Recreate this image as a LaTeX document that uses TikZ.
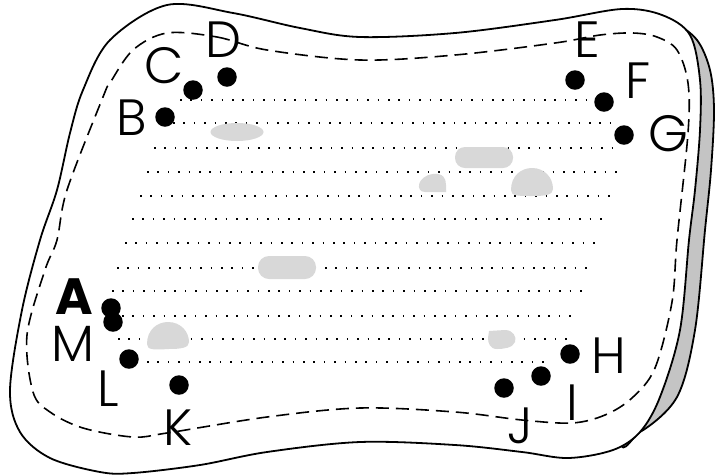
\documentclass[tikz,border=0pt]{standalone}
\usepackage{fontspec}
\setmainfont{Poppins}
\newfontfamily\lightlab{Poppins Light}
\begin{document}
\begin{tikzpicture}[x=1pt,y=-1pt,
  pin/.style={circle,fill=black,inner sep=0pt,minimum size=19.5pt},
  lab/.style={inner sep=0pt,font=\fontsize{51}{51}\lightlab},
  dotrow/.style={line width=1.6pt,dash pattern=on 1.6pt off 8.8pt},
  blob/.style={fill=blobgray},
  outline/.style={line width=1.8pt,line join=round}]
\definecolor{blobgray}{HTML}{D8D8D8}
\definecolor{shadegray}{HTML}{C4C4C4}
\useasboundingbox (0,0) rectangle (715,475);
% shadow
\draw[outline,fill=shadegray] plot[smooth cycle,tension=0.55] coordinates {
 (675,25) (697,40) (710,70) (714,110) (711,170) (705,230) (695,330) (677,397) (640,432) (620,430) (650,200) (660,40)};
% paper
\draw[outline,fill=white] plot[smooth cycle,tension=0.55] coordinates {
 (167,5) (233,13) (300,28) (360,37) (455,33) (555,20) (622,9) (662,15) (690,35) (700,80) (700,130) (695,190) (689,240) (680,330) (660,397) (640,432) (613,450) (568,458) (522,452) (455,445) (360,442) (267,452) (200,465) (133,473) (100,472) (50,458) (20,432) (10,390) (22,310) (40,240) (57,190) (70,133) (83,90) (110,40)};
% dashed border
\draw[line width=1.6pt,dash pattern=on 13pt off 7pt] plot[smooth cycle,tension=0.55] coordinates {
 (167,33) (217,37) (267,50) (360,60) (455,55) (555,43) (600,35) (633,33) (657,37) (677,50) (688,83) (688,133) (677,240) (672,302) (655,368) (632,398) (605,415) (572,423) (522,420) (455,412) (360,408) (267,417) (167,433) (133,437) (83,428) (50,412) (33,392) (27,335) (45,270) (57,240) (67,190) (103,97) (110,83) (133,50)};
% dotted rows
\foreach \y/\a/\b in {100/180/588,123/173/615,148/154/618,172/147/622,196/140/613,219/132/605,243/125/598,268/117/592,291/112/585,316/122/575,339/118/570,362/147/550}{
  \draw[dotrow] (\a,\y) -- (\b,\y);
}
% gray blobs
\fill[blob] (237,132) ellipse [x radius=26.5pt, y radius=9pt];
\fill[blob,rounded corners=10pt] (455,147) rectangle (513,168);
\fill[blob] (446,192) -- (425,192) .. controls (415,192) and (417,176) .. (433,174) .. controls (443,173) and (446,178) .. (446,185) -- cycle;
\fill[blob] (511,190) .. controls (511,176) and (521,168) .. (532,168) .. controls (545,168) and (553,178) .. (553,189) .. controls (553,195) and (545,196) .. (532,196) .. controls (518,196) and (511,196) .. (511,190) -- cycle;
\fill[blob,rounded corners=11pt] (258,256) rectangle (316,279);
\fill[blob] (147,344) .. controls (147,330) and (157,322) .. (168,322) .. controls (181,322) and (189,332) .. (189,342) .. controls (189,348) and (181,349) .. (168,349) .. controls (154,350) and (147,350) .. (147,344) -- cycle;
\fill[blob] (489,331) -- (505,330) .. controls (513,330) and (517,337) .. (515,342) .. controls (513,348) and (503,349) .. (497,349) .. controls (490,349) and (488,343) .. (488,338) -- cycle;
% pins
\node[pin] (pD) at (227,77) {};
\node[pin] (pC) at (193,90) {};
\node[pin] (pB) at (165,117) {};
\node[pin] (pE) at (575,80) {};
\node[pin] (pF) at (604,102) {};
\node[pin] (pG) at (624,135) {};
\node[pin] (pH) at (570,354) {};
\node[pin] (pI) at (541,376) {};
\node[pin] (pJ) at (504,388) {};
\node[pin] (pK) at (179,385) {};
\node[pin] (pL) at (129,359) {};
\node[pin] (pA) at (111,308) {};
\node[pin] (pM) at (113,322) {};
% labels
\node[lab] (lD) at (224,40) {D};
\node[lab] (lC) at (164,66) {C};
\node[lab] (lB) at (132,118) {B};
\node[lab] (lE) at (587,40) {E};
\node[lab] (lF) at (638,81) {F};
\node[lab] (lG) at (668,134) {G};
\node[lab] (lH) at (609,356) {H};
\node[lab] (lI) at (572,403) {I};
\node[lab] (lJ) at (520,426) {J};
\node[lab] (lK) at (178,428) {K};
\node[lab] (lL) at (108,389) {L};
\node[lab] (lM) at (73,344) {M};
\node[lab,font=\fontsize{51}{51}\selectfont\bfseries] (lA) at (74,297) {A};
\end{tikzpicture}
\end{document}
